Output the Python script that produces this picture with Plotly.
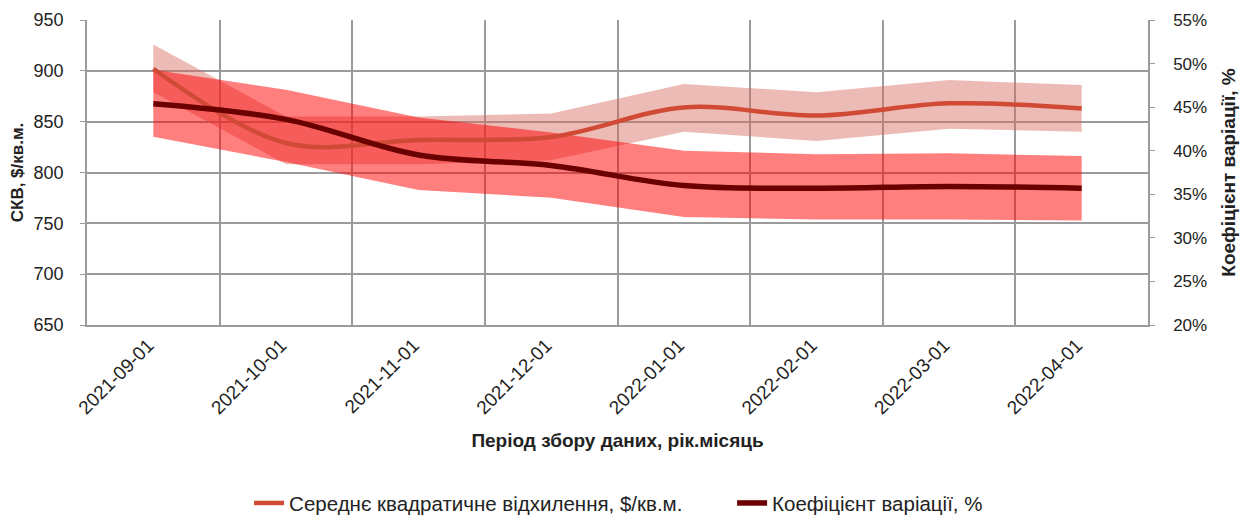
import plotly.graph_objects as go

dates = ["2021-09-01", "2021-10-01", "2021-11-01", "2021-12-01",
         "2022-01-01", "2022-02-01", "2022-03-01", "2022-04-01"]
skv = [902, 829, 832, 835, 864, 856, 868, 863]
skv_low = [879, 808, 808, 812, 840, 831, 843, 840]
skv_high = [926, 855, 855, 858, 887, 879, 891, 886]
cv = [45.4, 43.6, 39.5, 38.3, 36.0, 35.7, 35.9, 35.7]
cv_low = [41.6, 38.7, 35.5, 34.6, 32.4, 32.1, 32.1, 32.0]
cv_high = [49.3, 47.0, 43.8, 42.1, 40.0, 39.6, 39.7, 39.4]

FONT = "Liberation Sans, Arial, sans-serif"
GRID = "#9b9b9b"

fig = go.Figure()

# bands (СКВ band on y, CV band on y2)
fig.add_trace(go.Scatter(x=dates, y=skv_high, mode="lines", line=dict(width=0),
                         showlegend=False, hoverinfo="skip"))
fig.add_trace(go.Scatter(x=dates, y=skv_low, mode="lines", line=dict(width=0),
                         fill="tonexty", fillcolor="rgba(214,105,90,0.45)",
                         showlegend=False, hoverinfo="skip"))
fig.add_trace(go.Scatter(x=dates, y=cv_high, mode="lines", line=dict(width=0),
                         showlegend=False, hoverinfo="skip", yaxis="y2"))
fig.add_trace(go.Scatter(x=dates, y=cv_low, mode="lines", line=dict(width=0),
                         fill="tonexty", fillcolor="rgba(255,0,0,0.5)",
                         showlegend=False, hoverinfo="skip", yaxis="y2"))
# lines on overlay axes so they sit above both bands
fig.add_trace(go.Scatter(x=dates, y=skv, mode="lines", yaxis="y3",
                         name="Середнє квадратичне відхилення, $/кв.м.",
                         line=dict(color="#d04a35", width=4.5, shape="spline", smoothing=1)))
fig.add_trace(go.Scatter(x=dates, y=cv, mode="lines", yaxis="y4",
                         name="Коефіцієнт варіації, %",
                         line=dict(color="#6b0000", width=5.5, shape="spline", smoothing=1)))

# page body has an 8px margin: figure drawn at (8,8), so size 1243x508
fig.update_layout(
    width=1243, height=508,
    margin=dict(l=79, r=103, t=12, b=191, autoexpand=False),
    paper_bgcolor="white", plot_bgcolor="white",
    font=dict(family=FONT, size=18, color="#222222"),
    xaxis=dict(type="category", tickson="boundaries", range=[-0.5, 7.5],
               showgrid=True, gridcolor=GRID, gridwidth=1.5,
               showline=True, linecolor=GRID, linewidth=1.5,
               ticks="", tickangle=-45, tickfont=dict(size=19), automargin=False,
               ticklabelshift=-5,
               title=dict(text="<b>Період збору даних, рік.місяць</b>",
                          font=dict(size=19), standoff=16)),
    yaxis=dict(range=[650, 950], dtick=50, showgrid=True, gridcolor=GRID, gridwidth=1.5,
               showline=True, linecolor=GRID, linewidth=1.5, ticks="outside",
               ticklen=5, tickcolor=GRID, zeroline=False, tickfont=dict(size=18),
               ticklabelstandoff=13, automargin=False,
               title=dict(text="<b>СКВ, $/кв.м.</b>", font=dict(size=17), standoff=10)),
    yaxis2=dict(range=[20, 55], dtick=5, overlaying="y", side="right",
                ticksuffix="%", showgrid=False, showline=True, linecolor=GRID,
                linewidth=1.5, ticks="outside", ticklen=5, tickcolor=GRID,
                zeroline=False, tickfont=dict(size=17), ticklabelstandoff=15,
                automargin=False,
                title=dict(text="<b>Коефіцієнт варіації, %</b>", font=dict(size=19), standoff=16)),
    yaxis3=dict(matches="y", overlaying="y", visible=False, showgrid=False),
    yaxis4=dict(matches="y2", overlaying="y", side="right", visible=False, showgrid=False),
    legend=dict(orientation="h", x=0.608, xanchor="center", y=-0.584, yanchor="middle",
                font=dict(size=20.5), entrywidth=438, itemwidth=30, traceorder="normal"),
    showlegend=True,
)

fig.write_html("out.html")
